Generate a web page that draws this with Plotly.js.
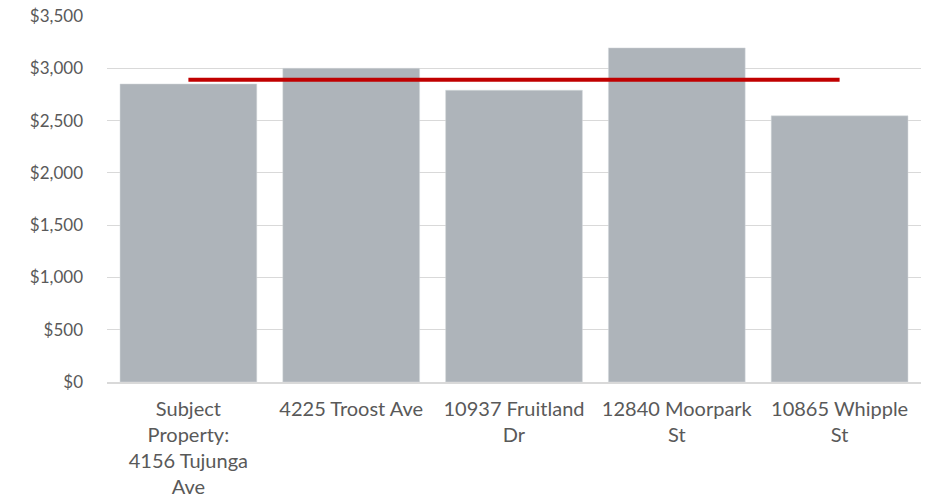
<!DOCTYPE html>
<html>
<head>
<meta charset="utf-8">
<script src="https://cdn.plot.ly/plotly-3.0.1.min.js"></script>
<style>html,body{margin:0;padding:0;background:#fff;}#chart{width:930px;height:503px;}</style>
</head>
<body>
<div id="chart"></div>
<script>
const categories = ["Subject<br>Property:<br>4156 Tujunga<br>Ave", "4225 Troost Ave", "10937 Fruitland<br>Dr", "12840 Moorpark<br>St", "10865 Whipple<br>St"];
const rents = [2850, 3000, 2790, 3195, 2545];
const averageRent = 2890;
const yTicks = [0, 500, 1000, 1500, 2000, 2500, 3000, 3500];
const yTickLabels = ["$0", "$500", "$1,000", "$1,500", "$2,000", "$2,500", "$3,000", "$3,500"];

const lineX = [categories[0], categories[categories.length - 1]];
const lineY = [averageRent, averageRent];

const data = [
  {
    type: "bar",
    x: categories,
    y: rents,
    marker: {color: "#aeb4ba", line: {color: "#d4d8dc", width: 0.5}},
    width: 0.84,
    hoverinfo: "skip"
  },
  {
    type: "scatter",
    mode: "lines",
    x: lineX,
    y: lineY,
    line: {color: "#c00000", width: 4},
    hoverinfo: "skip"
  }
];

const layout = {
  width: 930,
  height: 503,
  margin: {l: 107, r: 9, t: 16, b: 121},
  paper_bgcolor: "#ffffff",
  plot_bgcolor: "#ffffff",
  showlegend: false,
  font: {family: "Lato, Noto Sans, sans-serif", size: 18, color: "#595959"},
  xaxis: {
    type: "category",
    showgrid: false,
    showline: true,
    linecolor: "#d9d9d9",
    linewidth: 1.5,
    ticks: "",
    tickangle: 0,
    tickfont: {size: 20, color: "#595959"},
    ticklabelstandoff: 8
  },
  yaxis: {
    range: [0, 3500],
    tickvals: yTicks,
    ticktext: yTickLabels,
    showgrid: true,
    gridcolor: "#d9d9d9",
    gridwidth: 1,
    zeroline: false,
    showline: false,
    ticks: "",
    tickfont: {size: 17, color: "#595959"},
    ticklabelstandoff: 23
  },
  bargap: 0.16
};

Plotly.newPlot("chart", data, layout, {displayModeBar: false, staticPlot: true});
</script>
</body>
</html>
